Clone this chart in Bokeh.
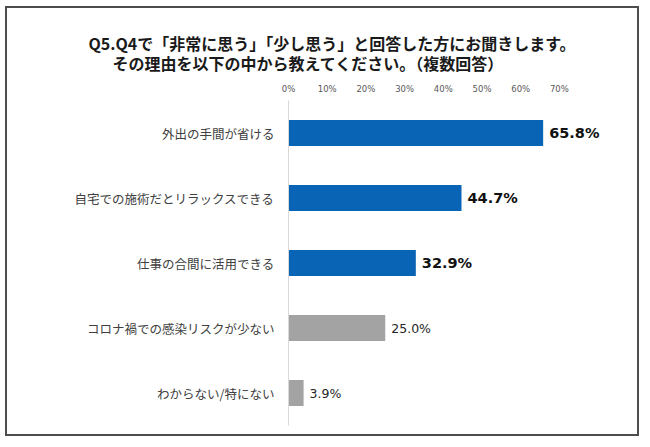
from bokeh.plotting import figure
from bokeh.models import ColumnDataSource, FactorRange, Range1d, FixedTicker, Title, LabelSet
from bokeh.core.properties import value
from bokeh.embed import file_html
from bokeh.resources import INLINE

# ---- data ----
categories = [
    "外出の手間が省ける",
    "自宅での施術だとリラックスできる",
    "仕事の合間に活用できる",
    "コロナ禍での感染リスクが少ない",
    "わからない/特にない",
]
values = [65.8, 44.7, 32.9, 25.0, 3.9]
highlight = [True, True, True, False, False]
tick_values = [0, 10, 20, 30, 40, 50, 60, 70]
tick_labels = ["0%", "10%", "20%", "30%", "40%", "50%", "60%", "70%"]
title_line1 = "Q5.Q4で「非常に思う」「少し思う」と回答した方にお聞きします。"
title_line2 = "その理由を以下の中から教えてください。（複数回答）"

BLUE = "#0a64b6"
GRAY = "#a3a3a3"
JP = "Noto Sans CJK JP"

src = ColumnDataSource(dict(
    cat=categories,
    val=values,
    color=[BLUE if h else GRAY for h in highlight],
    label=[f"{v:.1f}%" for v in values],
    fstyle=["bold" if h else "normal" for h in highlight],
    fsize=["14.5px" if h else "12.5px" for h in highlight],
    tcolor=["#111111" if h else "#262626" for h in highlight],
))

p = figure(
    width=634, height=430,
    y_range=FactorRange(factors=list(reversed(categories))),
    x_range=Range1d(0, 83.2),
    x_axis_location="above",
    output_backend="svg", toolbar_location=None,
    min_border_left=281, min_border_right=31, min_border_top=92, min_border_bottom=13,
)
p.styles = {"border": "2px solid #4d4d4d", "margin-left": "5px", "margin-top": "6px"}
p.outline_line_color = None
p.xgrid.visible = False
p.ygrid.visible = False
p.background_fill_color = "white"
p.border_fill_color = "white"

p.hbar(y="cat", right="val", height=0.4, left=0, color="color", line_color=None, source=src)

p.add_layout(LabelSet(
    x="val", y="cat", text="label", source=src, x_offset=6,
    text_baseline="middle", text_align="left",
    text_font=value("DejaVu Sans"), text_font_size="fsize",
    text_font_style="fstyle", text_color="tcolor",
))

# x axis (top)
xa = p.xaxis[0]
xa.ticker = FixedTicker(ticks=tick_values)
xa.major_label_overrides = {t: l for t, l in zip(tick_values, tick_labels)}
xa.axis_line_color = None
xa.major_tick_line_color = None
xa.minor_tick_line_color = None
xa.major_tick_out = 0
xa.major_label_standoff = 7
xa.major_label_text_font = "DejaVu Sans"
xa.major_label_text_font_size = "8.5px"
xa.major_label_text_color = "#595959"

# y axis (categories)
ya = p.yaxis[0]
ya.axis_line_color = "#d9d9d9"
ya.axis_line_width = 1
ya.major_tick_line_color = None
ya.minor_tick_line_color = None
ya.major_tick_out = 0
ya.major_label_standoff = 14
ya.major_label_text_font = JP
ya.major_label_text_font_size = "12.5px"
ya.major_label_text_color = "#404040"

# title lines
t2 = Title(text=title_line2, align="left", offset=-176, standoff=12,
           text_font=JP, text_font_size="16px", text_font_style="bold", text_color="#1a1a1a")
t1 = Title(text=title_line1, align="left", offset=-200, standoff=-24,
           text_font=JP, text_font_size="16px", text_font_style="bold", text_color="#1a1a1a")
p.add_layout(t2, "above")
p.add_layout(t1, "above")

open("out.html", "w").write(file_html(p, INLINE))
